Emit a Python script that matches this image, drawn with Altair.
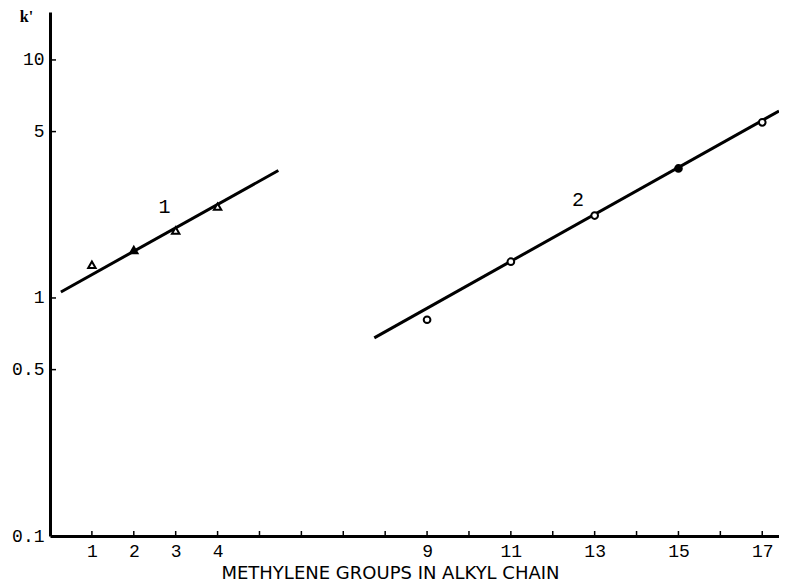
import altair as alt
import pandas as pd

# ---- data ----
s1_x = [1, 2, 3, 4]
s1_k = [1.38, 1.59, 1.92, 2.42]
s1_filled = [False, True, False, False]

s2_x = [9, 11, 13, 15, 17]
s2_k = [0.81, 1.42, 2.22, 3.50, 5.47]
s2_filled = [False, False, False, True, False]

line1_x = [0.26, 5.45]
line1_k = [1.06, 3.43]
line2_x = [7.74, 17.4]
line2_k = [0.68, 6.1]

curve_labels = ["1", "2"]
curve_label_x = [2.73, 12.6]
curve_label_k = [2.40, 2.59]

x_tick_values = list(range(1, 18))
x_tick_labels = [1, 2, 3, 4, 9, 11, 13, 15, 17]
y_tick_values = [0.1, 0.5, 1, 5, 10]
y_inner_ticks = [0.5, 1, 5, 10]

W, H = 729, 524
xs = alt.Scale(domain=[0, 17.4], nice=False, zero=False)
ys = alt.Scale(type="log", domain=[0.1, 15.9], nice=False)

pts1 = pd.DataFrame({"x": s1_x, "k": s1_k, "filled": s1_filled})
pts2 = pd.DataFrame({"x": s2_x, "k": s2_k, "filled": s2_filled})
l1 = pd.DataFrame({"x": line1_x, "k": line1_k})
l2 = pd.DataFrame({"x": line2_x, "k": line2_k})
lab = pd.DataFrame({"t": curve_labels, "x": curve_label_x, "k": curve_label_k})
xt = pd.DataFrame({"x": x_tick_values})
yt = pd.DataFrame({"k": y_inner_ticks})

label_list = ",".join(str(v) for v in x_tick_labels)

x_axis = alt.Axis(
    values=x_tick_values,
    labelExpr=f"indexof([{label_list}], datum.value) >= 0 ? datum.label : ''",
    ticks=False, grid=False, domainWidth=3, domainColor="black",
    labelFont="Liberation Mono", labelFontSize=18, labelColor="black",
    labelPadding=6, labelFlush=False, labelOverlap=False,
    title="METHYLENE GROUPS IN ALKYL CHAIN", titleFont="DejaVu Sans",
    titleFontSize=18, titleFontWeight="normal", titleColor="black",
    titlePadding=4, titleX=340, titleAlign="center",
)
y_axis = alt.Axis(
    values=y_tick_values, format="~g",
    ticks=False, grid=False, domainWidth=3, domainColor="black",
    labelFont="Liberation Mono", labelFontSize=18, labelColor="black",
    labelPadding=6, labelFlush=False, labelOverlap=False,
    title="k'", titleAngle=0, titleX=-24, titleY=4, titleAlign="center",
    titleBaseline="middle", titleFont="Liberation Serif", titleFontSize=16,
    titleFontWeight="bold", titleColor="black",
)

base_line1 = alt.Chart(l1).mark_line(color="black", strokeWidth=3).encode(
    x=alt.X("x:Q", scale=xs, axis=x_axis),
    y=alt.Y("k:Q", scale=ys, axis=y_axis),
)
base_line2 = alt.Chart(l2).mark_line(color="black", strokeWidth=3).encode(
    x=alt.X("x:Q", scale=xs),
    y=alt.Y("k:Q", scale=ys),
)
tri = alt.Chart(pts1).mark_point(shape="triangle-up", size=55, strokeWidth=2,
                                 color="black", opacity=1).encode(
    x=alt.X("x:Q", scale=xs),
    y=alt.Y("k:Q", scale=ys),
    fill=alt.condition("datum.filled", alt.value("black"), alt.value("white")),
)
circ = alt.Chart(pts2).mark_point(shape="circle", size=45, strokeWidth=2,
                                  color="black", opacity=1).encode(
    x=alt.X("x:Q", scale=xs),
    y=alt.Y("k:Q", scale=ys),
    fill=alt.condition("datum.filled", alt.value("black"), alt.value("white")),
)
labels = alt.Chart(lab).mark_text(font="Liberation Mono", fontSize=20,
                                  color="black").encode(
    x=alt.X("x:Q", scale=xs),
    y=alt.Y("k:Q", scale=ys),
    text="t:N",
)
xticks = alt.Chart(xt).mark_rule(color="black", strokeWidth=1.5).encode(
    x=alt.X("x:Q", scale=xs),
    y=alt.value(H - 5), y2=alt.value(H),
)
yticks = alt.Chart(yt).mark_rule(color="black", strokeWidth=1.5).encode(
    y=alt.Y("k:Q", scale=ys),
    x=alt.value(0), x2=alt.value(6),
)

chart = alt.layer(base_line1, base_line2, xticks, yticks, tri, circ, labels).properties(
    width=W, height=H,
    autosize=alt.AutoSizeParams(type="none"),
    padding={"left": 42, "top": 4, "right": 0, "bottom": 50},
).configure(background="white").configure_view(strokeWidth=0, stroke="transparent")

chart.save("out.html", embed_options={"renderer": "svg", "actions": False})
